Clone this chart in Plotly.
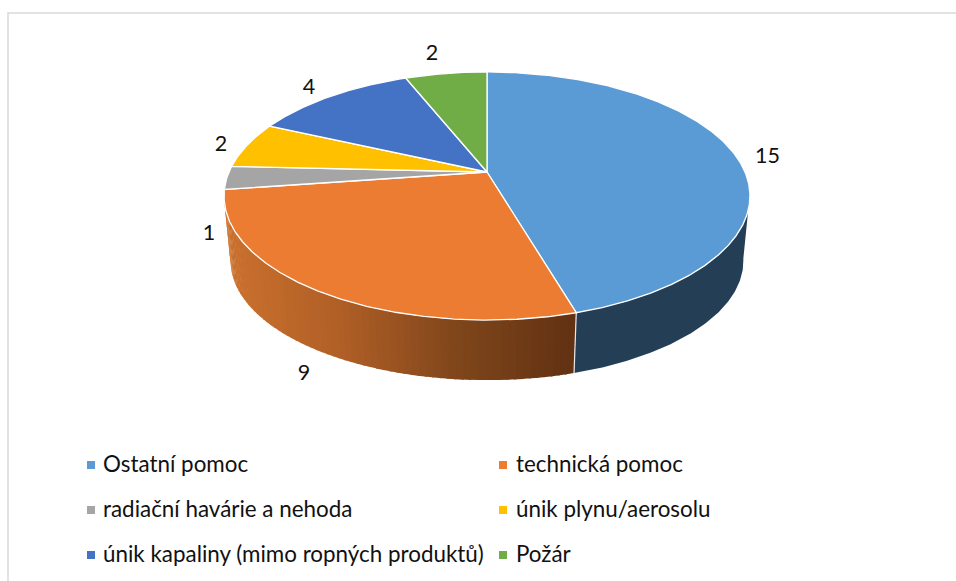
import numpy as np
import plotly.graph_objects as go

# ---- data ----
categories = ["Ostatní pomoc", "technická pomoc", "radiační havárie a nehoda",
              "únik plynu/aerosolu", "únik kapaliny (mimo ropných produktů)", "Požár"]
values = [15, 9, 1, 2, 4, 2]

# ---- style / layout ----
colors = ["#5B9BD5", "#EB7C31", "#A5A5A5", "#FFC000", "#4472C4", "#70AD47"]
W, H = 956, 581
HUB = (487.0, 172.0)
A, B, K = 258.0, 119.4, 0.1935      # perspective model of the disc
DEPTH_Y, SCALE_X, SCALE_Y = 66.0, 0.975, 0.96
WALL_FROM, WALL_TO = 100.0, 260.0
FONT = "Lato"
FS_LABEL, FS_LEGEND = 21.5, 22.4
label_xy = [(767.5, 158), (304, 375), (209, 235), (221, 146), (309, 89), (432, 55)]
legend_marker_xy = [(91, 465), (503, 465), (91, 510), (503, 510), (91, 555), (503, 555)]
legend_text_y = [466, 466, 511, 511, 556, 556]
legend_text_x = [103, 516, 103, 516, 103, 516]


def top(t):
    t = np.radians(t)
    u, v = np.sin(t), -np.cos(t)
    w = 1 - K * v
    return HUB[0] + A * u / w, HUB[1] + B * v / w


def bottom(t):
    t = np.radians(t)
    u, v = np.sin(t), -np.cos(t)
    w = 1 - K * v
    return HUB[0] + SCALE_X * A * u / w, HUB[1] + DEPTH_Y + SCALE_Y * B * v / w


def wall(t0, t1):
    ts = np.linspace(t0, t1, max(2, int(abs(t1 - t0) * 2) + 2))
    xt, yt = top(ts)
    xb, yb = bottom(ts[::-1])
    return np.r_[xt, xb, xt[0]], np.r_[yt, yb, yt[0]]


edges = np.cumsum([0] + values) / sum(values) * 360.0
fig = go.Figure()

# side walls
split = edges[1]
x, y = wall(WALL_FROM, split)
fig.add_trace(go.Scatter(x=x, y=y, mode="lines", fill="toself", fillcolor="#243F55",
                         line=dict(width=0), hoverinfo="skip", showlegend=False))

grad_stops = np.array([[203, 113, 46], [176, 95, 38], [128, 70, 27], [98, 50, 18]], float)
N = 70
tt = np.linspace(split, WALL_TO, N + 1)
for i in range(N):
    # colour follows the horizontal position
    frac = (top(tt[i])[0] - top(WALL_TO)[0]) / (top(split)[0] - top(WALL_TO)[0])
    p = frac * (len(grad_stops) - 1)
    j = min(int(p), len(grad_stops) - 2)
    c = grad_stops[j] + (grad_stops[j + 1] - grad_stops[j]) * (p - j)
    x, y = wall(tt[i], min(tt[i + 1] + 0.4, WALL_TO))
    fig.add_trace(go.Scatter(x=x, y=y, mode="lines", fill="toself",
                             fillcolor=f"rgb({c[0]:.0f},{c[1]:.0f},{c[2]:.0f})",
                             line=dict(width=0), hoverinfo="skip", showlegend=False))

# seam between the two walls
sx0, sy0 = top(split)
sx1, sy1 = bottom(split)
fig.add_trace(go.Scatter(x=[sx0, sx1], y=[sy0, sy1], mode="lines",
                         line=dict(color="#E8E8E8", width=1.2), hoverinfo="skip", showlegend=False))

# top slices
for i, name in enumerate(categories):
    ts = np.linspace(edges[i], edges[i + 1], max(3, int(values[i] * 30)))
    xa, ya = top(ts)
    fig.add_trace(go.Scatter(x=np.r_[HUB[0], xa, HUB[0]], y=np.r_[HUB[1], ya, HUB[1]],
                             mode="lines", fill="toself", fillcolor=colors[i],
                             line=dict(color="#FFFFFF", width=1.3),
                             name=name, hoverinfo="name", showlegend=False))

# data labels
fig.add_trace(go.Scatter(x=[p[0] for p in label_xy], y=[p[1] for p in label_xy],
                         mode="text", text=[str(v) for v in values],
                         textposition="middle center",
                         textfont=dict(family=FONT, size=FS_LABEL, color="#111111"),
                         hoverinfo="skip", showlegend=False))

# legend
fig.add_trace(go.Scatter(x=[p[0] for p in legend_marker_xy], y=[p[1] for p in legend_marker_xy],
                         mode="markers",
                         marker=dict(symbol="square", size=8, color=colors, line=dict(width=0)),
                         hoverinfo="skip", showlegend=False))
fig.add_trace(go.Scatter(x=legend_text_x, y=legend_text_y,
                         mode="text", text=categories, textposition="middle right",
                         textfont=dict(family=FONT, size=FS_LEGEND, color="#111111"),
                         hoverinfo="skip", showlegend=False))

fig.update_layout(
    width=W, height=H, margin=dict(l=0, r=0, t=0, b=0),
    paper_bgcolor="white", plot_bgcolor="white",
    xaxis=dict(range=[0, W], visible=False, fixedrange=True),
    yaxis=dict(range=[H, 0], visible=False, fixedrange=True),
    shapes=[dict(type="rect", xref="x", yref="y", x0=8, y0=13, x1=W + 20, y1=H + 20,
                 line=dict(color="#D9D9D9", width=1.5), fillcolor="rgba(0,0,0,0)", layer="below")],
)
fig.write_html("out.html", config=dict(displayModeBar=False),
               post_script="document.body.style.margin='0';document.documentElement.style.overflow='hidden';")
